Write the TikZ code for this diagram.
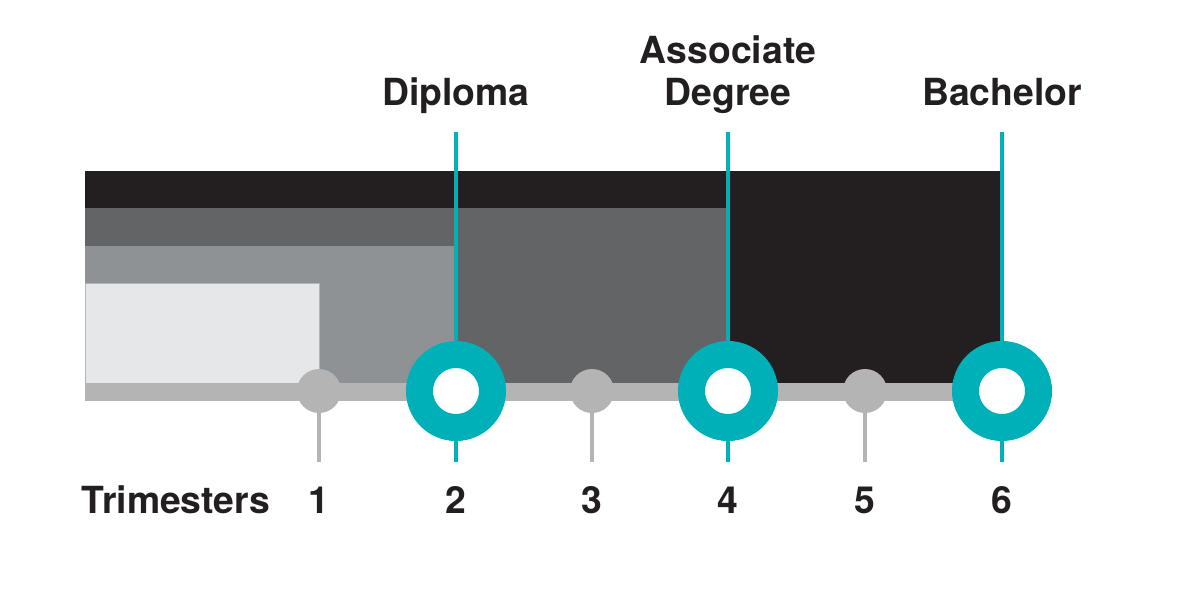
\documentclass[tikz,border=0pt]{standalone}
\usepackage{fontspec}
\setmainfont{TeX Gyre Heros}

\definecolor{ink}{RGB}{35,31,32}
\definecolor{darkband}{RGB}{99,100,102}
\definecolor{midband}{RGB}{143,146,148}
\definecolor{lightband}{RGB}{230,231,232}
\definecolor{axisgray}{RGB}{180,180,180}
\definecolor{tealring}{RGB}{0,176,185}

\tikzset{every picture/.style={line width=0.75pt}}
\tikzset{
  ring/.style={circle, draw=tealring, fill=white, line width=20.25pt, minimum size=54.75pt, inner sep=0pt},
  dot/.style={circle, fill=axisgray, minimum size=33pt, inner sep=0pt},
  lbl/.style={font=\fontsize{28}{31}\selectfont\bfseries, text=ink, align=center, inner sep=0pt, anchor=base},
  tealline/.style={draw=tealring, line width=3pt},
  tickline/.style={draw=axisgray, line width=3.5pt}
}

\begin{document}
\begin{tikzpicture}[x=0.75pt,y=0.75pt,yscale=-1,xscale=1]
\useasboundingbox (0,0) rectangle (1188,614);

% stacked study bands
\fill [ink] (85,171) rectangle (1000,383) ;
\fill [darkband] (85,208) rectangle (728,383) ;
\fill [midband] (85,246) rectangle (456,383) ;
\filldraw [fill=lightband, draw=axisgray, line width=0.75pt] (85,283) rectangle (319,383) ;
% time axis
\fill [axisgray] (85,383) rectangle (1000,401) ;

% tick ends
\coordinate (b1) at (319,462);
\coordinate (b3) at (592,462);
\coordinate (b5) at (865,462);
\coordinate (a2) at (456,132);
\coordinate (b2) at (456,462);
\coordinate (a4) at (728,132);
\coordinate (b4) at (728,462);
\coordinate (a6) at (1002,132);
\coordinate (b6) at (1002,462);

\draw [tickline] (319,391) -- (b1) ;
\draw [tickline] (592,391) -- (b3) ;
\draw [tickline] (865,391) -- (b5) ;
\node [dot] (t1) at (319,391) {};
\node [dot] (t3) at (592,391) {};
\node [dot] (t5) at (865,391) {};

\draw [tealline] (a2) -- (b2) ;
\draw [tealline] (a4) -- (b4) ;
\draw [tealline] (a6) -- (b6) ;
\node [ring] (t2) at (456,391) {};
\node [ring] (t4) at (728,391) {};
\node [ring] (t6) at (1002,391) {};

% labels
\node [lbl] (dipl) at (456,105) {Diploma};
\node [lbl] (assoc) at (728,105) {Associate\\Degree};
\node [lbl] (bach) at (1002,105) {Bachelor};

\node [lbl] (trim) at (176,513) {Trimesters};
\node [lbl] (n1) at (319,513) {1};
\node [lbl] (n2) at (456,513) {2};
\node [lbl] (n3) at (592,513) {3};
\node [lbl] (n4) at (728,513) {4};
\node [lbl] (n5) at (865,513) {5};
\node [lbl] (n6) at (1002,513) {6};

\end{tikzpicture}
\end{document}
